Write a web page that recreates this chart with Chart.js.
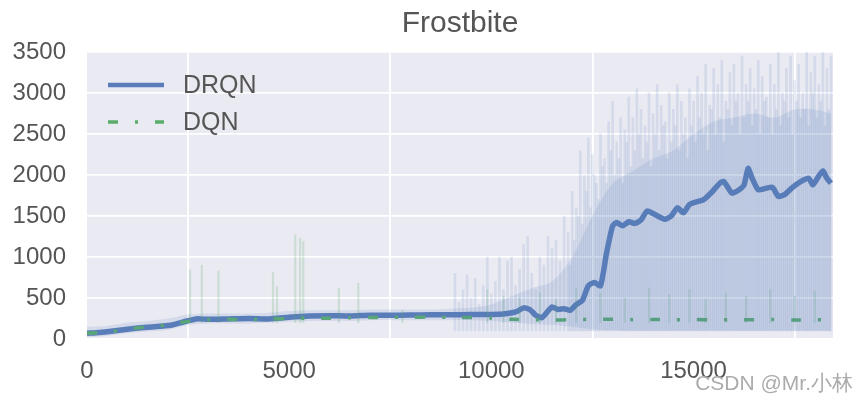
<!DOCTYPE html>
<html>
<head>
<meta charset="utf-8">
<script src="https://cdn.jsdelivr.net/npm/chart.js@4/dist/chart.umd.min.js"></script>
<style>
  html, body { margin: 0; padding: 0; background: #fff; }
  #wrap { width: 855px; height: 397px; }
</style>
</head>
<body>
<div id="wrap"><canvas id="frostbite"></canvas></div>
<script>
// smoothed curves
const drqnX = [0, 300, 600, 1000, 1400, 1800, 2100, 2400, 2700, 3000, 3500, 4000, 4500, 5000, 5500, 6000, 6500, 7000, 7500, 8000, 8500, 9000, 9500, 10000, 10300, 10600, 10800, 10950, 11100, 11250, 11400, 11500, 11650, 11800, 11950, 12100, 12250, 12400, 12550, 12700, 12850, 13000, 13100, 13250, 13400, 13550, 13700, 13850, 14000, 14150, 14300, 14450, 14600, 14750, 14900, 15050, 15250, 15450, 15650, 15750, 15950, 16100, 16250, 16350, 16450, 16600, 16800, 16950, 17100, 17250, 17450, 17650, 17850, 17950, 18100, 18200, 18300, 18400];
const drqnY = [70, 80, 95, 120, 140, 155, 170, 210, 245, 240, 245, 250, 245, 265, 280, 285, 280, 290, 290, 292, 295, 295, 298, 300, 305, 330, 380, 360, 290, 260, 340, 390, 360, 370, 350, 420, 470, 650, 690, 650, 1050, 1380, 1420, 1380, 1430, 1410, 1450, 1560, 1530, 1490, 1460, 1500, 1600, 1540, 1640, 1670, 1700, 1790, 1900, 1920, 1780, 1810, 1880, 2080, 1960, 1820, 1840, 1850, 1740, 1760, 1850, 1920, 1960, 1880, 1990, 2050, 1960, 1900];

const dqnX = [0, 500, 1000, 1500, 2000, 2500, 3000, 3500, 4000, 4500, 5000, 5500, 6000, 6500, 7000, 7500, 8000, 8500, 9000, 9500, 10000, 10500, 11000, 11500, 12000, 12500, 13000, 13500, 14000, 14500, 15000, 15500, 16000, 16500, 17000, 17500, 18000, 18400];
const dqnY = [70, 85, 120, 150, 175, 215, 235, 240, 238, 242, 250, 255, 252, 258, 262, 265, 263, 268, 265, 262, 255, 240, 235, 232, 235, 238, 240, 236, 238, 235, 237, 233, 236, 234, 238, 232, 236, 235];

// dense part of the raw DRQN scores
const bandX = [0, 500, 1000, 1500, 2000, 2500, 3000, 3500, 4000, 4500, 5000, 5500, 6000, 6500, 7000, 7500, 8000, 8500, 9000, 9500, 10000, 10500, 11000, 11500, 12000, 12500, 13000, 13500, 14000, 14500, 15000, 15500, 16000, 16500, 17000, 17500, 18000, 18400];
const bandLo = [20, 40, 70, 90, 110, 170, 190, 190, 190, 200, 210, 220, 220, 220, 230, 230, 230, 230, 230, 230, 220, 200, 180, 170, 150, 120, 110, 100, 100, 100, 100, 100, 100, 100, 100, 100, 100, 100];
const bandHi = [150, 160, 200, 220, 250, 300, 310, 310, 310, 320, 340, 350, 350, 350, 360, 360, 360, 360, 370, 380, 420, 520, 620, 700, 1000, 1500, 1900, 2050, 2200, 2300, 2500, 2650, 2700, 2750, 2700, 2800, 2800, 2750];

// raw DRQN peaks
const drqnSpikeX = [9100, 9200, 9300, 9400, 9500, 9600, 9700, 9800, 9900, 10000, 10100, 10200, 10300, 10400, 10500, 10600, 10700, 10800, 10900, 11000, 11100, 11200, 11300, 11400, 11500, 11600, 11700, 11800, 11900, 12000, 12100, 12200, 12300, 12400, 12500, 12600, 12700, 12800, 12900, 13000, 13100, 13200, 13300, 13400, 13500, 13600, 13700, 13800, 13900, 14000, 14100, 14200, 14300, 14400, 14500, 14600, 14700, 14800, 14900, 15000, 15100, 15200, 15300, 15400, 15500, 15600, 15700, 15800, 15900, 16000, 16100, 16200, 16300, 16400, 16500, 16600, 16700, 16800, 16900, 17000, 17100, 17200, 17300, 17400, 17500, 17600, 17700, 17800, 17900, 18000, 18100, 18200, 18300, 18400];
const drqnSpikeY = [800, 450, 600, 780, 500, 740, 420, 650, 1000, 550, 700, 1000, 600, 950, 1000, 650, 850, 1150, 1250, 800, 600, 1000, 900, 1250, 1100, 1200, 950, 1500, 1300, 1800, 1600, 2300, 2000, 2450, 2250, 1900, 2500, 2200, 2650, 2900, 2400, 2700, 2550, 2950, 2700, 3050, 2800, 2600, 3000, 2750, 3100, 2850, 2650, 3000, 2800, 3100, 2900, 2700, 3050, 2900, 3200, 3000, 3350, 2850, 3300, 3100, 3400, 2900, 3250, 3350, 3000, 3450, 3100, 3300, 3050, 3400, 3200, 2950, 3350, 3100, 3500, 3000, 3300, 3450, 3150, 3350, 3000, 3500, 3250, 3450, 3100, 3500, 3300, 3450];
const drqnSpike2X = [11950, 12050, 12150, 12250, 12350, 12450, 12550, 12650, 12750, 12850, 12950, 13050, 13150, 13250, 13350, 13450, 13550, 13650, 13750, 13850, 13950, 14050, 14150, 14250, 14350, 14450, 14550, 14650, 14750, 14850, 14950, 15050, 15150, 15250, 15350, 15450, 15550, 15650, 15750, 15850, 15950, 16050, 16150, 16250, 16350, 16450, 16550, 16650, 16750, 16850, 16950, 17050, 17150, 17250, 17350, 17450, 17550, 17650, 17750, 17850, 17950, 18050, 18150, 18250, 18350];
const drqnSpike2Y = [900, 1200, 1500, 1400, 1800, 1600, 2000, 1700, 2100, 1900, 2300, 2000, 2200, 1900, 2400, 2100, 2300, 2500, 2200, 2400, 2100, 2500, 2300, 2600, 2200, 2400, 2600, 2300, 2500, 2200, 2600, 2400, 2700, 2500, 2300, 2800, 2500, 2700, 2400, 2800, 2600, 2900, 2500, 2700, 2900, 2600, 2800, 2500, 2900, 2700, 2500, 2800, 2600, 2900, 2700, 2500, 2900, 2700, 2800, 2600, 3000, 2700, 2900, 2600, 2800];
const drqnSpikeBase = 100;

// raw DQN peaks
const dqnSpikeX = [2550, 2840, 3250, 4600, 4700, 5150, 5270, 5350, 6230, 6710, 7800, 9900, 10300, 10700, 11200, 11600, 12100, 12700, 13300, 13900, 14400, 14900, 15300, 15800, 16300, 16900, 17500, 18000];
const dqnSpikeY = [840, 900, 830, 810, 640, 1270, 1230, 1190, 620, 680, 350, 600, 520, 500, 560, 480, 620, 560, 500, 620, 540, 600, 480, 560, 520, 600, 520, 580];
const dqnSpikeBase = 200;

const xTicks = [0, 5000, 10000, 15000];
const yTicks = [0, 500, 1000, 1500, 2000, 2500, 3000, 3500];

const BLUE = "#5A7DB9";
const GREEN = "#5AAE6A";
const DASHDOT = [10, 17, 3, 17];
const FONT = "'Liberation Sans', Arial, sans-serif";
const TEXT = "#555555";

function pts(xs, ys) {
    return xs.map((x, i) => ({ x: x, y: ys[i] }));
}
function bars(xs, ys, base) {
    return xs.map((x, i) => ({ x: x, y: [base, ys[i]] }));
}

const plotBg = {
    id: "plotBg",
    beforeDraw(chart) {
        const { ctx, chartArea: a } = chart;
        ctx.save();
        ctx.fillStyle = "#EAEAF2";
        ctx.fillRect(a.left, a.top, a.right - a.left, a.bottom - a.top);
        ctx.restore();
    }
};

// title centred over the plot area, like matplotlib
const plotTitle = {
    id: "plotTitle",
    afterDraw(chart) {
        const { ctx, chartArea: a } = chart;
        ctx.save();
        ctx.font = "30px " + FONT;
        ctx.textAlign = "center";
        ctx.textBaseline = "middle";
        ctx.fillStyle = TEXT;
        ctx.fillText("Frostbite", (a.left + a.right) / 2, 24);
        ctx.restore();
    }
};

const innerLegend = {
    id: "innerLegend",
    afterDatasetsDraw(chart) {
        const { ctx, chartArea: a } = chart;
        const items = [
            { label: "DRQN", color: BLUE, width: 4.5, dash: [] },
            { label: "DQN", color: GREEN, width: 3.5, dash: DASHDOT }
        ];
        ctx.save();
        ctx.font = "25px " + FONT;
        ctx.textBaseline = "middle";
        items.forEach((it, i) => {
            const y = a.top + 33 + i * 37;
            ctx.strokeStyle = it.color;
            ctx.lineWidth = it.width;
            ctx.setLineDash(it.dash);
            ctx.beginPath();
            ctx.moveTo(a.left + 21, y);
            ctx.lineTo(a.left + 77, y);
            ctx.stroke();
            ctx.setLineDash([]);
            ctx.fillStyle = TEXT;
            ctx.fillText(it.label, a.left + 96, y + 1);
        });
        ctx.restore();
    }
};

const watermark = {
    id: "watermark",
    afterDraw(chart) {
        const ctx = chart.ctx;
        ctx.save();
        ctx.font = "21px " + FONT;
        ctx.textAlign = "right";
        ctx.textBaseline = "middle";
        ctx.fillStyle = "#ABABAB";
        ctx.fillText("CSDN @Mr.小林", 853, 384);
        ctx.restore();
    }
};

new Chart(document.getElementById("frostbite"), {
    type: "line",
    data: {
        datasets: [
            {
                type: "line", label: "bandLo", data: pts(bandX, bandLo),
                borderWidth: 0, pointRadius: 0, fill: false, tension: 0.3
            },
            {
                type: "line", label: "bandHi", data: pts(bandX, bandHi),
                borderWidth: 0, pointRadius: 0, fill: "-1", tension: 0.3,
                backgroundColor: "rgba(90,125,185,0.15)"
            },
            {
                type: "bar", label: "drqnRaw2", data: bars(drqnSpike2X, drqnSpike2Y, drqnSpikeBase),
                backgroundColor: "rgba(90,125,185,0.14)", barThickness: 2, grouped: false
            },
            {
                type: "bar", label: "drqnRaw", data: bars(drqnSpikeX, drqnSpikeY, drqnSpikeBase),
                backgroundColor: "rgba(90,125,185,0.15)", barThickness: 2, grouped: false
            },
            {
                type: "bar", label: "dqnRaw", data: bars(dqnSpikeX, dqnSpikeY, dqnSpikeBase),
                backgroundColor: "rgba(90,174,106,0.22)", barThickness: 1.5, grouped: false
            },
            {
                type: "line", label: "DQN", data: pts(dqnX, dqnY),
                borderColor: GREEN, borderWidth: 3.5, borderDash: DASHDOT,
                pointRadius: 0, fill: false, tension: 0.3
            },
            {
                type: "line", label: "DRQN", data: pts(drqnX, drqnY),
                borderColor: BLUE, borderWidth: 5.5, pointRadius: 0, fill: false, tension: 0.2
            }
        ]
    },
    options: {
        responsive: true,
        maintainAspectRatio: false,
        animation: false,
        layout: { padding: { left: 0, right: 22, top: 0, bottom: 0 } },
        plugins: {
            legend: { display: false },
            tooltip: { enabled: false },
            title: {
                // keeps the room above the plot; the text itself is drawn by plotTitle
                display: true,
                text: "Frostbite",
                color: "rgba(0,0,0,0)",
                font: { family: FONT, size: 30, weight: "normal" },
                padding: { top: 5, bottom: 11 }
            }
        },
        scales: {
            x: {
                type: "linear",
                min: 0,
                max: 18450,
                offset: false,
                afterFit(scale) { scale.height = 58; },
                afterBuildTicks(scale) { scale.ticks = xTicks.map(v => ({ value: v })); },
                grid: { color: "#FFFFFF", lineWidth: 1.8, drawTicks: false },
                border: { display: false },
                ticks: {
                    padding: 18,
                    color: TEXT,
                    font: { family: FONT, size: 24 },
                    callback: v => String(v)
                }
            },
            y: {
                min: 0,
                max: 3500,
                afterFit(scale) { scale.width = 87; },
                afterBuildTicks(scale) { scale.ticks = yTicks.map(v => ({ value: v })); },
                grid: { color: "#FFFFFF", lineWidth: 1.8, drawTicks: false },
                border: { display: false },
                ticks: {
                    padding: 21,
                    color: TEXT,
                    font: { family: FONT, size: 24 },
                    callback: v => String(v)
                }
            }
        }
    },
    plugins: [plotBg, plotTitle, innerLegend, watermark]
});
</script>
</body>
</html>
